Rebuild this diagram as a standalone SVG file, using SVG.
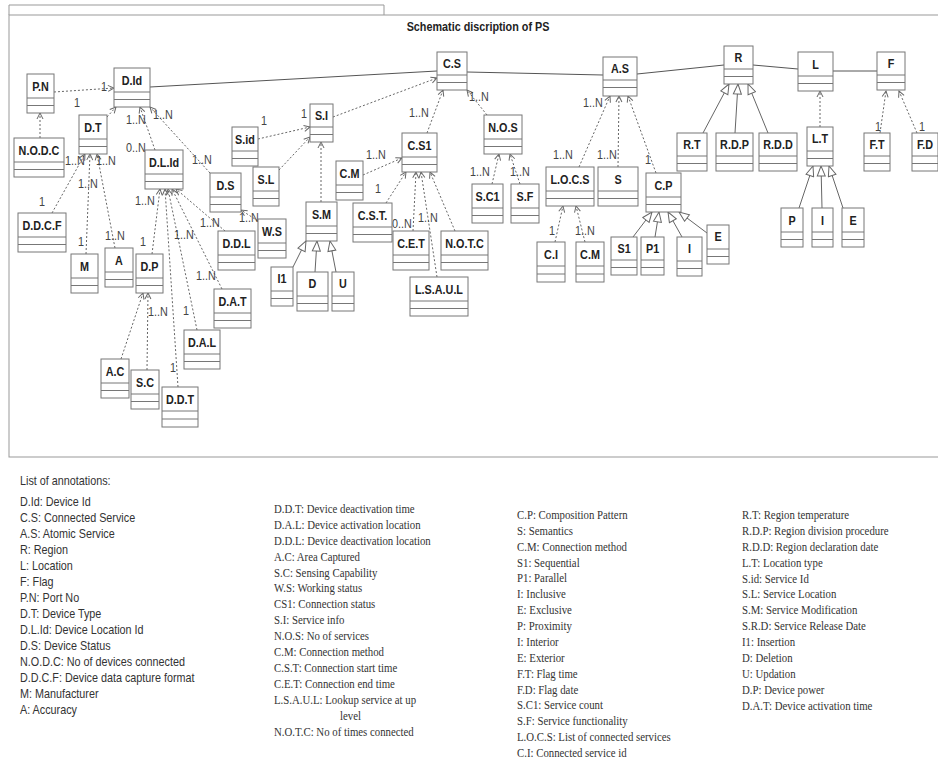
<svg xmlns="http://www.w3.org/2000/svg" width="938" height="760" viewBox="0 0 938 760">
<style>
text{font-family:"Liberation Sans",Arial,sans-serif;fill:#222;transform-box:fill-box;transform:scaleX(0.9)}
.nl{font-size:12px;font-weight:bold;text-anchor:middle;transform-origin:center}
.ml{font-size:12px;fill:#444;transform-origin:left center}
.an{font-size:12px;fill:#333;transform-origin:left center}
.as{font-family:"Liberation Serif","Times New Roman",serif;font-size:12px;fill:#333;transform-origin:left center}
.title{font-size:12px;font-weight:bold;text-anchor:middle;transform-origin:center}
.box{fill:#fff;stroke:#777;stroke-width:1}
.sep{stroke:#777;stroke-width:1}
.frame{fill:none;stroke:#999;stroke-width:1}
.assoc{fill:none;stroke:#555;stroke-width:1}
.dep{fill:none;stroke:#666;stroke-width:1;stroke-dasharray:2,2;marker-end:url(#arr)}
.gen{fill:none;stroke:#666;stroke-width:1;marker-end:url(#tri)}
</style>
<defs>
<marker id="arr" markerWidth="8" markerHeight="8" refX="7" refY="4" orient="auto" markerUnits="userSpaceOnUse"><path d="M1,1 L7,4 L1,7" fill="none" stroke="#666" stroke-width="1"/></marker>
<marker id="tri" markerWidth="12" markerHeight="10" refX="11" refY="5" orient="auto" markerUnits="userSpaceOnUse"><path d="M1,1 L11,5 L1,9 Z" fill="#fff" stroke="#666" stroke-width="1"/></marker>
</defs>
<rect x="0" y="0" width="938" height="760" fill="#fff"/>
<path class="frame" d="M9,15 L9,5 L384,5 L384,15"/>
<rect class="frame" x="9" y="15" width="935" height="442"/>
<text class="title" x="478" y="31">Schematic discription of PS</text>

<g id="connectors">
<path class="assoc" d="M150,87 L437,71"/>
<path class="assoc" d="M467,72 L603,75"/>
<path class="assoc" d="M637,74 L724,65"/>
<path class="assoc" d="M753,65 L798,69"/>
<path class="assoc" d="M833,71 L877,71"/>
<path class="dep" d="M54,92 L114,88"/>
<path class="dep" d="M40,138 L40,113"/>
<path class="dep" d="M107,117 L116,107"/>
<path class="dep" d="M155,150 L140,107"/>
<path class="dep" d="M210,173 L150,107"/>
<path class="dep" d="M52,213 L85,154"/>
<path class="dep" d="M86,254 L90,154"/>
<path class="dep" d="M115,248 L97,154"/>
<path class="dep" d="M152,254 L160,189"/>
<path class="dep" d="M222,289 L172,189"/>
<path class="dep" d="M197,330 L168,189"/>
<path class="dep" d="M178,387 L165,189"/>
<path class="dep" d="M225,231 L176,189"/>
<path class="dep" d="M121,359 L143,293"/>
<path class="dep" d="M147,370 L148,293"/>
<path class="dep" d="M258,221 L241,210"/>
<path class="dep" d="M258,139 L310,127"/>
<path class="dep" d="M279,170 L310,137"/>
<path class="dep" d="M321,202 L321,142"/>
<path class="dep" d="M333,117 L437,78"/>
<path class="dep" d="M427,133 L443,90"/>
<path class="dep" d="M487,115 L467,90"/>
<path class="dep" d="M363,175 L402,158"/>
<path class="dep" d="M386,203 L406,172"/>
<path class="dep" d="M413,231 L416,172"/>
<path class="dep" d="M437,277 L421,172"/>
<path class="dep" d="M455,231 L430,172"/>
<path class="dep" d="M492,184 L499,154"/>
<path class="dep" d="M520,184 L510,154"/>
<path class="dep" d="M579,167 L610,96"/>
<path class="dep" d="M618,167 L619,96"/>
<path class="dep" d="M656,173 L628,96"/>
<path class="dep" d="M555,242 L563,206"/>
<path class="dep" d="M585,242 L576,206"/>
<path class="dep" d="M820,127 L820,91"/>
<path class="dep" d="M880,133 L886,91"/>
<path class="dep" d="M917,133 L899,91"/>
<path class="gen" d="M293,267 L306,241"/>
<path class="gen" d="M315,272 L317,241"/>
<path class="gen" d="M336,272 L330,241"/>
<path class="gen" d="M633,237 L652,212"/>
<path class="gen" d="M655,237 L659,212"/>
<path class="gen" d="M682,237 L668,212"/>
<path class="gen" d="M707,233 L679,212"/>
<path class="gen" d="M703,133 L729,84"/>
<path class="gen" d="M735,133 L738,84"/>
<path class="gen" d="M768,133 L748,84"/>
<path class="gen" d="M799,208 L813,166"/>
<path class="gen" d="M822,208 L821,166"/>
<path class="gen" d="M843,208 L829,166"/>
<text class="ml" x="101" y="91">1</text>
<text class="ml" x="74" y="107">1</text>
<text class="ml" x="126" y="124">1..N</text>
<text class="ml" x="153" y="119">1..N</text>
<text class="ml" x="126" y="152">0..N</text>
<text class="ml" x="192" y="164">1..N</text>
<text class="ml" x="65" y="165">1..N</text>
<text class="ml" x="96" y="165">1..N</text>
<text class="ml" x="78" y="188">1..N</text>
<text class="ml" x="39" y="206">1</text>
<text class="ml" x="78" y="246">1</text>
<text class="ml" x="105" y="240">1..N</text>
<text class="ml" x="140" y="246">1</text>
<text class="ml" x="135" y="205">1..N</text>
<text class="ml" x="174" y="239">1..N</text>
<text class="ml" x="200" y="227">1..N</text>
<text class="ml" x="196" y="280">1..N</text>
<text class="ml" x="183" y="315">1</text>
<text class="ml" x="170" y="372">1</text>
<text class="ml" x="148" y="316">1..N</text>
<text class="ml" x="239" y="222">1..N</text>
<text class="ml" x="261" y="125">1</text>
<text class="ml" x="301" y="118">1</text>
<text class="ml" x="409" y="117">1..N</text>
<text class="ml" x="469" y="101">1..N</text>
<text class="ml" x="366" y="159">1..N</text>
<text class="ml" x="375" y="193">1</text>
<text class="ml" x="392" y="228">0..N</text>
<text class="ml" x="418" y="222">1..N</text>
<text class="ml" x="470" y="176">1..N</text>
<text class="ml" x="510" y="176">1..N</text>
<text class="ml" x="583" y="107">1..N</text>
<text class="ml" x="553" y="159">1..N</text>
<text class="ml" x="597" y="159">1..N</text>
<text class="ml" x="645" y="164">1</text>
<text class="ml" x="549" y="235">1</text>
<text class="ml" x="575" y="235">1..N</text>
<text class="ml" x="875" y="131">1</text>
<text class="ml" x="919" y="131">1</text>
</g>

<g id="n-PN"><rect class="box" x="27" y="74" width="27" height="39"/><line class="sep" x1="27" y1="98" x2="54" y2="98"/><line class="sep" x1="27" y1="105.5" x2="54" y2="105.5"/><text class="nl" x="40.5" y="91">P.N</text></g>
<g id="n-DId"><rect class="box" x="114" y="68" width="36" height="39"/><line class="sep" x1="114" y1="92" x2="150" y2="92"/><line class="sep" x1="114" y1="99.5" x2="150" y2="99.5"/><text class="nl" x="132" y="85">D.Id</text></g>
<g id="n-DT"><rect class="box" x="79" y="115" width="28" height="39"/><line class="sep" x1="79" y1="139" x2="107" y2="139"/><line class="sep" x1="79" y1="146.5" x2="107" y2="146.5"/><text class="nl" x="93" y="132">D.T</text></g>
<g id="n-NODC"><rect class="box" x="14" y="138" width="50" height="39"/><line class="sep" x1="14" y1="162" x2="64" y2="162"/><line class="sep" x1="14" y1="169.5" x2="64" y2="169.5"/><text class="nl" x="39" y="155">N.O.D.C</text></g>
<g id="n-DLId"><rect class="box" x="145" y="150" width="38" height="39"/><line class="sep" x1="145" y1="174" x2="183" y2="174"/><line class="sep" x1="145" y1="181.5" x2="183" y2="181.5"/><text class="nl" x="164" y="167">D.L.Id</text></g>
<g id="n-DDCF"><rect class="box" x="18" y="213" width="48" height="39"/><line class="sep" x1="18" y1="237" x2="66" y2="237"/><line class="sep" x1="18" y1="244.5" x2="66" y2="244.5"/><text class="nl" x="42" y="230">D.D.C.F</text></g>
<g id="n-M"><rect class="box" x="71" y="254" width="27" height="39"/><line class="sep" x1="71" y1="278" x2="98" y2="278"/><line class="sep" x1="71" y1="285.5" x2="98" y2="285.5"/><text class="nl" x="84.5" y="271">M</text></g>
<g id="n-A"><rect class="box" x="105" y="248" width="28" height="39"/><line class="sep" x1="105" y1="272" x2="133" y2="272"/><line class="sep" x1="105" y1="279.5" x2="133" y2="279.5"/><text class="nl" x="119" y="265">A</text></g>
<g id="n-DP"><rect class="box" x="136" y="254" width="27" height="39"/><line class="sep" x1="136" y1="278" x2="163" y2="278"/><line class="sep" x1="136" y1="285.5" x2="163" y2="285.5"/><text class="nl" x="149.5" y="271">D.P</text></g>
<g id="n-DS"><rect class="box" x="210" y="173" width="31" height="39"/><line class="sep" x1="210" y1="197" x2="241" y2="197"/><line class="sep" x1="210" y1="204.5" x2="241" y2="204.5"/><text class="nl" x="225.5" y="190">D.S</text></g>
<g id="n-Sid"><rect class="box" x="232" y="127" width="26" height="39"/><line class="sep" x1="232" y1="151" x2="258" y2="151"/><line class="sep" x1="232" y1="158.5" x2="258" y2="158.5"/><text class="nl" x="245" y="144">S.id</text></g>
<g id="n-SL"><rect class="box" x="253" y="167" width="26" height="39"/><line class="sep" x1="253" y1="191" x2="279" y2="191"/><line class="sep" x1="253" y1="198.5" x2="279" y2="198.5"/><text class="nl" x="266" y="184">S.L</text></g>
<g id="n-WS"><rect class="box" x="258" y="219" width="28" height="39"/><line class="sep" x1="258" y1="243" x2="286" y2="243"/><line class="sep" x1="258" y1="250.5" x2="286" y2="250.5"/><text class="nl" x="272" y="236">W.S</text></g>
<g id="n-DDL"><rect class="box" x="218" y="231" width="37" height="39"/><line class="sep" x1="218" y1="255" x2="255" y2="255"/><line class="sep" x1="218" y1="262.5" x2="255" y2="262.5"/><text class="nl" x="236.5" y="248">D.D.L</text></g>
<g id="n-DAT"><rect class="box" x="214" y="289" width="37" height="39"/><line class="sep" x1="214" y1="313" x2="251" y2="313"/><line class="sep" x1="214" y1="320.5" x2="251" y2="320.5"/><text class="nl" x="232.5" y="306">D.A.T</text></g>
<g id="n-DAL"><rect class="box" x="184" y="330" width="36" height="39"/><line class="sep" x1="184" y1="354" x2="220" y2="354"/><line class="sep" x1="184" y1="361.5" x2="220" y2="361.5"/><text class="nl" x="202" y="347">D.A.L</text></g>
<g id="n-AC"><rect class="box" x="101" y="359" width="28" height="39"/><line class="sep" x1="101" y1="383" x2="129" y2="383"/><line class="sep" x1="101" y1="390.5" x2="129" y2="390.5"/><text class="nl" x="115" y="376">A.C</text></g>
<g id="n-SC"><rect class="box" x="131" y="370" width="28" height="39"/><line class="sep" x1="131" y1="394" x2="159" y2="394"/><line class="sep" x1="131" y1="401.5" x2="159" y2="401.5"/><text class="nl" x="145" y="387">S.C</text></g>
<g id="n-DDT"><rect class="box" x="162" y="387" width="36" height="40"/><line class="sep" x1="162" y1="411" x2="198" y2="411"/><line class="sep" x1="162" y1="419" x2="198" y2="419"/><text class="nl" x="180" y="404">D.D.T</text></g>
<g id="n-SI"><rect class="box" x="310" y="104" width="23" height="38"/><line class="sep" x1="310" y1="127" x2="333" y2="127"/><line class="sep" x1="310" y1="134.5" x2="333" y2="134.5"/><text class="nl" x="321.5" y="120">S.I</text></g>
<g id="n-CM1"><rect class="box" x="336" y="161" width="27" height="39"/><line class="sep" x1="336" y1="185" x2="363" y2="185"/><line class="sep" x1="336" y1="192.5" x2="363" y2="192.5"/><text class="nl" x="349.5" y="178">C.M</text></g>
<g id="n-CS1"><rect class="box" x="402" y="133" width="35" height="39"/><line class="sep" x1="402" y1="157" x2="437" y2="157"/><line class="sep" x1="402" y1="164.5" x2="437" y2="164.5"/><text class="nl" x="419.5" y="150">C.S1</text></g>
<g id="n-SM"><rect class="box" x="306" y="202" width="31" height="39"/><line class="sep" x1="306" y1="226" x2="337" y2="226"/><line class="sep" x1="306" y1="233.5" x2="337" y2="233.5"/><text class="nl" x="321.5" y="219">S.M</text></g>
<g id="n-CST"><rect class="box" x="353" y="203" width="39" height="39"/><line class="sep" x1="353" y1="227" x2="392" y2="227"/><line class="sep" x1="353" y1="234.5" x2="392" y2="234.5"/><text class="nl" x="372.5" y="220">C.S.T.</text></g>
<g id="n-CET"><rect class="box" x="393" y="231" width="36" height="39"/><line class="sep" x1="393" y1="255" x2="429" y2="255"/><line class="sep" x1="393" y1="262.5" x2="429" y2="262.5"/><text class="nl" x="411" y="248">C.E.T</text></g>
<g id="n-I1"><rect class="box" x="271" y="267" width="22" height="39"/><line class="sep" x1="271" y1="291" x2="293" y2="291"/><line class="sep" x1="271" y1="298.5" x2="293" y2="298.5"/><text class="nl" x="282" y="283">I1</text></g>
<g id="n-D"><rect class="box" x="297" y="272" width="31" height="39"/><line class="sep" x1="297" y1="296" x2="328" y2="296"/><line class="sep" x1="297" y1="303.5" x2="328" y2="303.5"/><text class="nl" x="312.5" y="288">D</text></g>
<g id="n-U"><rect class="box" x="332" y="272" width="22" height="39"/><line class="sep" x1="332" y1="296" x2="354" y2="296"/><line class="sep" x1="332" y1="303.5" x2="354" y2="303.5"/><text class="nl" x="343" y="288">U</text></g>
<g id="n-CS"><rect class="box" x="437" y="52" width="30" height="38"/><line class="sep" x1="437" y1="75" x2="467" y2="75"/><line class="sep" x1="437" y1="82.5" x2="467" y2="82.5"/><text class="nl" x="452" y="68">C.S</text></g>
<g id="n-NOS"><rect class="box" x="484" y="115" width="38" height="39"/><line class="sep" x1="484" y1="139" x2="522" y2="139"/><line class="sep" x1="484" y1="146.5" x2="522" y2="146.5"/><text class="nl" x="503" y="132">N.O.S</text></g>
<g id="n-SC1"><rect class="box" x="472" y="184" width="31" height="39"/><line class="sep" x1="472" y1="208" x2="503" y2="208"/><line class="sep" x1="472" y1="215.5" x2="503" y2="215.5"/><text class="nl" x="487.5" y="201">S.C1</text></g>
<g id="n-SF"><rect class="box" x="511" y="184" width="28" height="39"/><line class="sep" x1="511" y1="208" x2="539" y2="208"/><line class="sep" x1="511" y1="215.5" x2="539" y2="215.5"/><text class="nl" x="525" y="201">S.F</text></g>
<g id="n-NOTC"><rect class="box" x="441" y="231" width="47" height="39"/><line class="sep" x1="441" y1="255" x2="488" y2="255"/><line class="sep" x1="441" y1="262.5" x2="488" y2="262.5"/><text class="nl" x="464.5" y="248">N.O.T.C</text></g>
<g id="n-LSAUL"><rect class="box" x="410" y="277" width="58" height="39"/><line class="sep" x1="410" y1="301" x2="468" y2="301"/><line class="sep" x1="410" y1="308.5" x2="468" y2="308.5"/><text class="nl" x="439" y="294">L.S.A.U.L</text></g>
<g id="n-AS"><rect class="box" x="603" y="57" width="34" height="39"/><line class="sep" x1="603" y1="80" x2="637" y2="80"/><line class="sep" x1="603" y1="87.5" x2="637" y2="87.5"/><text class="nl" x="620" y="73">A.S</text></g>
<g id="n-R"><rect class="box" x="724" y="46" width="29" height="38"/><line class="sep" x1="724" y1="69" x2="753" y2="69"/><line class="sep" x1="724" y1="76.5" x2="753" y2="76.5"/><text class="nl" x="738.5" y="62">R</text></g>
<g id="n-LOCS"><rect class="box" x="546" y="167" width="48" height="39"/><line class="sep" x1="546" y1="191" x2="594" y2="191"/><line class="sep" x1="546" y1="198.5" x2="594" y2="198.5"/><text class="nl" x="570" y="184">L.O.C.S</text></g>
<g id="n-S"><rect class="box" x="598" y="167" width="40" height="39"/><line class="sep" x1="598" y1="191" x2="638" y2="191"/><line class="sep" x1="598" y1="198.5" x2="638" y2="198.5"/><text class="nl" x="618" y="184">S</text></g>
<g id="n-CP"><rect class="box" x="646" y="173" width="35" height="39"/><line class="sep" x1="646" y1="197" x2="681" y2="197"/><line class="sep" x1="646" y1="204.5" x2="681" y2="204.5"/><text class="nl" x="663.5" y="190">C.P</text></g>
<g id="n-RT"><rect class="box" x="677" y="133" width="30" height="38"/><line class="sep" x1="677" y1="156" x2="707" y2="156"/><line class="sep" x1="677" y1="163.5" x2="707" y2="163.5"/><text class="nl" x="692" y="149">R.T</text></g>
<g id="n-RDP"><rect class="box" x="716" y="133" width="37" height="38"/><line class="sep" x1="716" y1="156" x2="753" y2="156"/><line class="sep" x1="716" y1="163.5" x2="753" y2="163.5"/><text class="nl" x="734.5" y="149">R.D.P</text></g>
<g id="n-RDD"><rect class="box" x="759" y="133" width="38" height="38"/><line class="sep" x1="759" y1="156" x2="797" y2="156"/><line class="sep" x1="759" y1="163.5" x2="797" y2="163.5"/><text class="nl" x="778" y="149">R.D.D</text></g>
<g id="n-CI"><rect class="box" x="537" y="242" width="28" height="40"/><line class="sep" x1="537" y1="266" x2="565" y2="266"/><line class="sep" x1="537" y1="274" x2="565" y2="274"/><text class="nl" x="551" y="259">C.I</text></g>
<g id="n-CM2"><rect class="box" x="576" y="242" width="28" height="40"/><line class="sep" x1="576" y1="266" x2="604" y2="266"/><line class="sep" x1="576" y1="274" x2="604" y2="274"/><text class="nl" x="590" y="259">C.M</text></g>
<g id="n-S1"><rect class="box" x="611" y="237" width="26" height="38"/><line class="sep" x1="611" y1="260" x2="637" y2="260"/><line class="sep" x1="611" y1="267.5" x2="637" y2="267.5"/><text class="nl" x="624" y="253">S1</text></g>
<g id="n-P1"><rect class="box" x="641" y="237" width="23" height="38"/><line class="sep" x1="641" y1="260" x2="664" y2="260"/><line class="sep" x1="641" y1="267.5" x2="664" y2="267.5"/><text class="nl" x="652.5" y="253">P1</text></g>
<g id="n-Icp"><rect class="box" x="677" y="237" width="25" height="39"/><line class="sep" x1="677" y1="261" x2="702" y2="261"/><line class="sep" x1="677" y1="268.5" x2="702" y2="268.5"/><text class="nl" x="689.5" y="253">I</text></g>
<g id="n-Ecp"><rect class="box" x="707" y="225" width="22" height="39"/><line class="sep" x1="707" y1="249" x2="729" y2="249"/><line class="sep" x1="707" y1="256.5" x2="729" y2="256.5"/><text class="nl" x="718" y="241">E</text></g>
<g id="n-L"><rect class="box" x="798" y="52" width="35" height="39"/><line class="sep" x1="798" y1="76" x2="833" y2="76"/><line class="sep" x1="798" y1="83.5" x2="833" y2="83.5"/><text class="nl" x="815.5" y="69">L</text></g>
<g id="n-F"><rect class="box" x="877" y="52" width="28" height="38"/><line class="sep" x1="877" y1="75" x2="905" y2="75"/><line class="sep" x1="877" y1="82.5" x2="905" y2="82.5"/><text class="nl" x="891" y="68">F</text></g>
<g id="n-LT"><rect class="box" x="807" y="127" width="26" height="39"/><line class="sep" x1="807" y1="151" x2="833" y2="151"/><line class="sep" x1="807" y1="158.5" x2="833" y2="158.5"/><text class="nl" x="820" y="143">L.T</text></g>
<g id="n-FT"><rect class="box" x="864" y="133" width="26" height="38"/><line class="sep" x1="864" y1="156" x2="890" y2="156"/><line class="sep" x1="864" y1="163.5" x2="890" y2="163.5"/><text class="nl" x="877" y="149">F.T</text></g>
<g id="n-FD"><rect class="box" x="912" y="133" width="26" height="38"/><line class="sep" x1="912" y1="156" x2="938" y2="156"/><line class="sep" x1="912" y1="163.5" x2="938" y2="163.5"/><text class="nl" x="925" y="149">F.D</text></g>
<g id="n-P"><rect class="box" x="781" y="208" width="22" height="39"/><line class="sep" x1="781" y1="232" x2="803" y2="232"/><line class="sep" x1="781" y1="239.5" x2="803" y2="239.5"/><text class="nl" x="792" y="225">P</text></g>
<g id="n-Ilt"><rect class="box" x="812" y="208" width="21" height="39"/><line class="sep" x1="812" y1="232" x2="833" y2="232"/><line class="sep" x1="812" y1="239.5" x2="833" y2="239.5"/><text class="nl" x="822.5" y="225">I</text></g>
<g id="n-Elt"><rect class="box" x="842" y="208" width="22" height="39"/><line class="sep" x1="842" y1="232" x2="864" y2="232"/><line class="sep" x1="842" y1="239.5" x2="864" y2="239.5"/><text class="nl" x="853" y="225">E</text></g>

<g id="annotations">
<text class="an" x="20" y="485">List of annotations:</text>
<text class="an" x="20" y="506">D.Id: Device Id</text>
<text class="an" x="20" y="522">C.S: Connected Service</text>
<text class="an" x="20" y="538">A.S: Atomic Service</text>
<text class="an" x="20" y="554">R: Region</text>
<text class="an" x="20" y="570">L: Location</text>
<text class="an" x="20" y="586">F: Flag</text>
<text class="an" x="20" y="602">P.N: Port No</text>
<text class="an" x="20" y="618">D.T: Device Type</text>
<text class="an" x="20" y="634">D.L.Id: Device Location Id</text>
<text class="an" x="20" y="650">D.S: Device Status</text>
<text class="an" x="20" y="666">N.O.D.C: No of devices connected</text>
<text class="an" x="20" y="682">D.D.C.F: Device data capture format</text>
<text class="an" x="20" y="698">M: Manufacturer</text>
<text class="an" x="20" y="714">A: Accuracy</text>

<text class="as" x="274" y="513">D.D.T: Device deactivation time</text>
<text class="as" x="274" y="529">D.A.L: Device activation location</text>
<text class="as" x="274" y="545">D.D.L: Device deactivation location</text>
<text class="as" x="274" y="561">A.C: Area Captured</text>
<text class="as" x="274" y="577">S.C: Sensing Capability</text>
<text class="as" x="274" y="592">W.S: Working status</text>
<text class="as" x="274" y="608">CS1: Connection status</text>
<text class="as" x="274" y="624">S.I: Service info</text>
<text class="as" x="274" y="640">N.O.S: No of services</text>
<text class="as" x="274" y="656">C.M: Connection method</text>
<text class="as" x="274" y="672">C.S.T: Connection start time</text>
<text class="as" x="274" y="688">C.E.T: Connection end time</text>
<text class="as" x="274" y="704">L.S.A.U.L: Lookup service at up</text>
<text class="as" x="340" y="720">level</text>
<text class="as" x="274" y="736">N.O.T.C: No of times connected</text>

<text class="as" x="517" y="519">C.P: Composition Pattern</text>
<text class="as" x="517" y="535">S: Semantics</text>
<text class="as" x="517" y="551">C.M: Connection method</text>
<text class="as" x="517" y="567">S1: Sequential</text>
<text class="as" x="517" y="582">P1: Parallel</text>
<text class="as" x="517" y="598">I: Inclusive</text>
<text class="as" x="517" y="614">E: Exclusive</text>
<text class="as" x="517" y="630">P: Proximity</text>
<text class="as" x="517" y="646">I: Interior</text>
<text class="as" x="517" y="662">E: Exterior</text>
<text class="as" x="517" y="678">F.T: Flag time</text>
<text class="as" x="517" y="694">F.D: Flag date</text>
<text class="as" x="517" y="709">S.C1: Service count</text>
<text class="as" x="517" y="725">S.F: Service functionality</text>
<text class="as" x="517" y="741">L.O.C.S: List of connected services</text>
<text class="as" x="517" y="757">C.I: Connected service id</text>

<text class="as" x="742" y="519">R.T: Region temperature</text>
<text class="as" x="742" y="535">R.D.P: Region division procedure</text>
<text class="as" x="742" y="551">R.D.D: Region declaration date</text>
<text class="as" x="742" y="567">L.T: Location type</text>
<text class="as" x="742" y="583">S.id: Service Id</text>
<text class="as" x="742" y="598">S.L: Service Location</text>
<text class="as" x="742" y="614">S.M: Service Modification</text>
<text class="as" x="742" y="630">S.R.D: Service Release Date</text>
<text class="as" x="742" y="646">I1: Insertion</text>
<text class="as" x="742" y="662">D: Deletion</text>
<text class="as" x="742" y="678">U: Updation</text>
<text class="as" x="742" y="694">D.P: Device power</text>
<text class="as" x="742" y="710">D.A.T: Device activation time</text>
</g>
</svg>
